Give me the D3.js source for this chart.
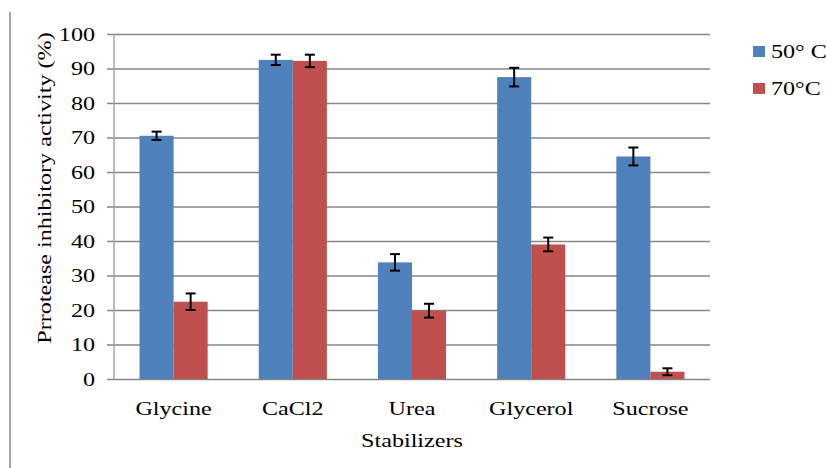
<!DOCTYPE html>
<html><head><meta charset="utf-8">
<script src="https://cdn.jsdelivr.net/npm/d3@7"></script>
<style>body{margin:0;background:#fff}svg{display:block}
svg text{font-family:"Liberation Serif",serif;}</style>
</head><body>
<script>
const categories = ["Glycine","CaCl2","Urea","Glycerol","Sucrose"];
const seriesNames = ["50° C","70°C"];
const values50 = [70.5, 92.5, 33.8, 87.5, 64.5];
const err50 = [1.2, 1.5, 2.4, 2.7, 2.6];
const values70 = [22.4, 92.2, 19.8, 39.0, 2.1];
const err70 = [2.4, 1.8, 2.0, 2.0, 1.0];
const yTicks = [0,10,20,30,40,50,60,70,80,90,100];
const colors = ["#4F81BD","#C0504D"];

(function(){
const W=826,H=468;
const svg=d3.select("body").append("svg").attr("width",W).attr("height",H);
const pl=114,pr=710,pt=34,pb=379;
const sx=1.27; // horizontal stretch of the reference's text

function stext(g,xp,yp,anchor,size,str){
  return g.append("text").attr("transform",`translate(${xp},${yp}) scale(${sx},1)`)
    .attr("text-anchor",anchor).attr("font-size",size).attr("fill","#000").text(str);
}

svg.append("line").attr("x1",10).attr("x2",10).attr("y1",12).attr("y2",H)
  .attr("stroke","#a6a6a6").attr("stroke-width",2);

const x=d3.scaleBand().domain(categories).range([pl,pr]);
const y=d3.scaleLinear().domain([0,100]).range([pb,pt]);
const bw=x.bandwidth()/3.5;

svg.append("g").selectAll("line").data(yTicks).join("line")
  .attr("x1",pl-7).attr("x2",pr).attr("y1",d=>y(d)+0.5).attr("y2",d=>y(d)+0.5)
  .attr("stroke","#868686").attr("stroke-width",1.3);

svg.append("line").attr("x1",pl).attr("x2",pl).attr("y1",pt).attr("y2",pb)
  .attr("stroke","#a6a6a6").attr("stroke-width",1.5);

const yl=svg.append("g");
yTicks.forEach(d=>stext(yl,pl-19,y(d)+6.5,"end",19,d));

const series=[{v:values50,e:err50},{v:values70,e:err70}];
series.forEach((s,si)=>{
  svg.append("g").selectAll("rect").data(categories).join("rect")
    .attr("x",(c)=>x(c)+bw*0.75+si*bw)
    .attr("y",(c,i)=>y(s.v[i]))
    .attr("width",bw)
    .attr("height",(c,i)=>y(0)-y(s.v[i]))
    .attr("fill",colors[si]);
});
series.forEach((s,si)=>{
  const eg=svg.append("g").attr("stroke","#000").attr("stroke-width",2);
  categories.forEach((c,i)=>{
    const cx=x(c)+bw*0.75+si*bw+bw/2;
    const y1=y(s.v[i]+s.e[i]), y2=y(s.v[i]-s.e[i]);
    eg.append("line").attr("x1",cx).attr("x2",cx).attr("y1",y1).attr("y2",y2);
    eg.append("line").attr("x1",cx-5).attr("x2",cx+5).attr("y1",y1).attr("y2",y1);
    eg.append("line").attr("x1",cx-5).attr("x2",cx+5).attr("y1",y2).attr("y2",y2);
  });
});

const xl=svg.append("g");
categories.forEach(c=>stext(xl,x(c)+x.bandwidth()/2,415,"middle",19,c));

stext(svg,412,447,"middle",19,"Stabilizers");

svg.append("text").attr("transform",`translate(51,188) rotate(-90) scale(${sx},1)`).attr("text-anchor","middle")
  .attr("font-size",19).text("Prrotease inhibitory activity (%)");

const lg=svg.append("g");
seriesNames.forEach((n,i)=>{
  lg.append("rect").attr("x",753).attr("y",46+i*37).attr("width",12).attr("height",11).attr("fill",colors[i]);
  stext(lg,771,58+i*37,"start",19,n);
});
})();
</script>
</body></html>
